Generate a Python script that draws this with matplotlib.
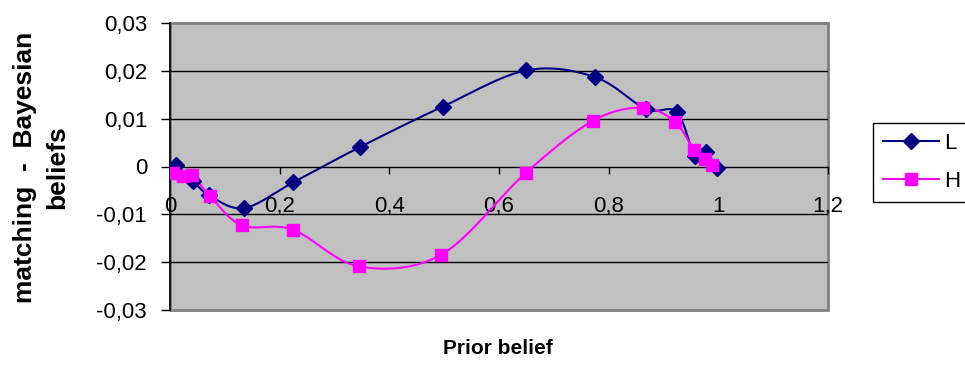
import numpy as np
import matplotlib.pyplot as plt
from matplotlib.ticker import MultipleLocator, FuncFormatter

plt.rcParams['font.family'] = ['Liberation Sans', 'DejaVu Sans']

# prior belief vs. (matching - Bayesian) beliefs
prior_L = [0.011, 0.042, 0.071, 0.135, 0.225, 0.347, 0.497, 0.650, 0.775, 0.868, 0.924, 0.957, 0.977, 0.997]
diff_L = [0.0003, -0.0030, -0.0060, -0.0087, -0.0033, 0.0041, 0.0125, 0.0201, 0.0187, 0.0120, 0.0114, 0.0022, 0.0030, -0.0003]

prior_H = [0.006, 0.024, 0.040, 0.073, 0.131, 0.224, 0.345, 0.495, 0.649, 0.772, 0.863, 0.921, 0.956, 0.976, 0.988]
diff_H = [-0.0013, -0.0020, -0.0018, -0.0062, -0.0123, -0.0132, -0.0209, -0.0184, -0.0013, 0.0096, 0.0123, 0.0093, 0.0034, 0.0015, 0.0004]

series_names = ['L', 'H']
series_colors = ['#000080', '#FF00FF']
series_markers = ['D', 's']


def smooth(x, y, steps=24):
    # Catmull-Rom curve through the points, like a spreadsheet "smoothed line"
    x = np.asarray(x, float)
    y = np.asarray(y, float)
    px = np.concatenate([[x[0]], x, [x[-1]]])
    py = np.concatenate([[y[0]], y, [y[-1]]])
    t = np.linspace(0, 1, steps)
    xs, ys = [], []
    for i in range(1, len(px) - 2):
        for p, out in ((px, xs), (py, ys)):
            p0, p1, p2, p3 = p[i - 1], p[i], p[i + 1], p[i + 2]
            out.append(0.5 * (2 * p1 + (-p0 + p2) * t
                              + (2 * p0 - 5 * p1 + 4 * p2 - p3) * t ** 2
                              + (-p0 + 3 * p1 - 3 * p2 + p3) * t ** 3))
    return np.concatenate(xs), np.concatenate(ys)


fig = plt.figure(figsize=(9.65, 3.65), dpi=100)
ax = fig.add_axes([170 / 965, 1 - 310 / 365, 658 / 965, 287 / 365])

ax.set_facecolor('#C0C0C0')
ax.patch.set_edgecolor('#808080')
ax.patch.set_linewidth(2)

ax.set_xlim(0, 1.2)
ax.set_ylim(-0.03, 0.03)
ax.xaxis.set_major_locator(MultipleLocator(0.2))
ax.yaxis.set_major_locator(MultipleLocator(0.01))

comma = FuncFormatter(lambda v, pos: ('%g' % round(v, 4)).replace('.', ','))
ax.xaxis.set_major_formatter(comma)
ax.yaxis.set_major_formatter(comma)

for y in [-0.02, -0.01, 0.01, 0.02]:
    ax.axhline(y, color='black', linewidth=1, zorder=1)

ax.spines['top'].set_visible(False)
ax.spines['right'].set_visible(False)
ax.spines['bottom'].set_position(('data', 0))
ax.spines['bottom'].set_linewidth(1)
ax.spines['left'].set_linewidth(1.2)

ax.tick_params(axis='x', direction='out', length=5, width=1, pad=16, labelsize=16)
ax.tick_params(axis='y', direction='out', length=6.5, width=1, pad=10, labelsize=16)

handles = []
data = [(prior_L, diff_L), (prior_H, diff_H)]
for (xs, ys), name, col, mk in zip(data, series_names, series_colors, series_markers):
    ms = 8 if mk == 'D' else 8.5
    sx, sy = smooth(xs, ys)
    ax.plot(sx, sy, color=col, linewidth=1.5, zorder=3)
    ax.plot(xs, ys, linestyle='none', marker=mk, color=col, markersize=ms, zorder=4)
    h, = ax.plot([], [], color=col, linewidth=1.5, marker=mk, markersize=ms)
    handles.append(h)

fig.text(25 / 965, 1 - 167 / 365, 'matching  -  Bayesian', rotation=90,
         ha='center', va='center', fontsize=19, fontweight='bold')
fig.text(57 / 965, 1 - 167 / 365, 'beliefs', rotation=90,
         ha='center', va='center', fontsize=19, fontweight='bold')
fig.text(498 / 965, 1 - 348 / 365, 'Prior belief', ha='center', va='center',
         fontsize=15, fontweight='bold')

leg = fig.legend(handles, series_names, loc='upper left',
                 bbox_to_anchor=(873 / 965, 1 - 123 / 365), borderaxespad=0,
                 fontsize=16, handlelength=2.5, handletextpad=0.25,
                 labelspacing=0.75, borderpad=0.45, fancybox=False,
                 framealpha=1, edgecolor='black')
leg.get_frame().set_linewidth(1)

fig.savefig('out.png', dpi=100)
